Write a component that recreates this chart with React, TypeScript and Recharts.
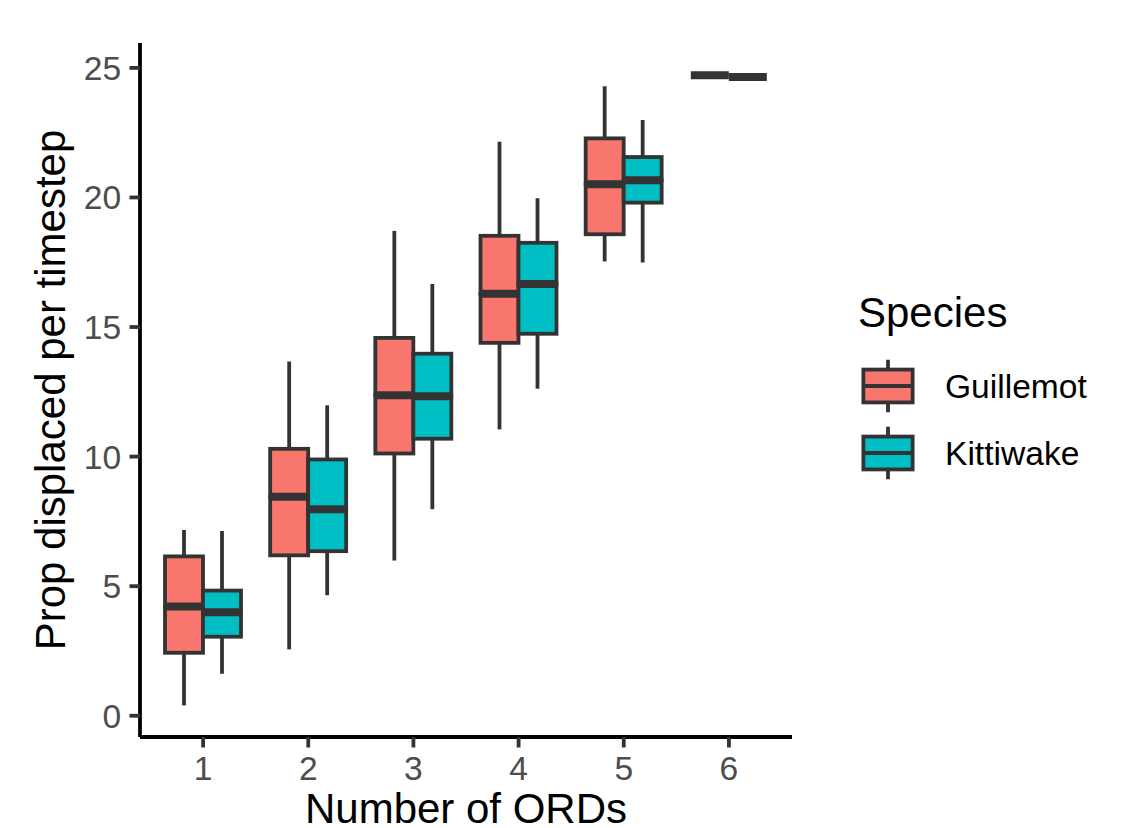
import React from 'react';
import { ComposedChart, Bar, XAxis, YAxis } from 'recharts';

const ords = ['1', '2', '3', '4', '5', '6'];

const guillemotMin = [0.4, 2.56, 5.99, 11.05, 17.53, 24.72];
const guillemotQ1 = [2.43, 6.19, 10.12, 14.39, 18.58, 24.72];
const guillemotMedian = [4.22, 8.45, 12.37, 16.28, 20.51, 24.72];
const guillemotQ3 = [6.15, 10.3, 14.58, 18.52, 22.28, 24.72];
const guillemotMax = [7.17, 13.67, 18.71, 22.15, 24.29, 24.72];

const kittiwakeMin = [1.62, 4.65, 7.97, 12.62, 17.49, 24.65];
const kittiwakeQ1 = [3.05, 6.35, 10.69, 14.74, 19.8, 24.65];
const kittiwakeMedian = [3.99, 7.97, 12.33, 16.66, 20.66, 24.65];
const kittiwakeQ3 = [4.83, 9.89, 13.97, 18.25, 21.56, 24.65];
const kittiwakeMax = [7.13, 11.98, 16.66, 19.97, 22.99, 24.65];

const yTicks = [0, 5, 10, 15, 20, 25];
const speciesNames = ['Guillemot', 'Kittiwake'];
const speciesColors = ['#F8766D', '#00BFC4'];

const FONT = "'Liberation Sans', Arial, Helvetica, sans-serif";
const OUTLINE = '#333333';
const LW = 3.8;
const MEDIAN_LW = 8;

const data = ords.map((ord, i) => ({
  ord,
  gBase: guillemotMin[i],
  gLowWhisker: guillemotQ1[i] - guillemotMin[i],
  gLowBox: guillemotMedian[i] - guillemotQ1[i],
  gHighBox: guillemotQ3[i] - guillemotMedian[i],
  gHighWhisker: guillemotMax[i] - guillemotQ3[i],
  kBase: kittiwakeMin[i],
  kLowWhisker: kittiwakeQ1[i] - kittiwakeMin[i],
  kLowBox: kittiwakeMedian[i] - kittiwakeQ1[i],
  kHighBox: kittiwakeQ3[i] - kittiwakeMedian[i],
  kHighWhisker: kittiwakeMax[i] - kittiwakeQ3[i],
}));

const Empty = () => <g />;

const Whisker = (p: any) => {
  const cx = p.x + p.width / 2;
  if (!(p.height > 0)) return <g />;
  return <line x1={cx} x2={cx} y1={p.y} y2={p.y + p.height} stroke={OUTLINE} strokeWidth={LW} />;
};

const makeLowBox = (fill: string) => (p: any) => {
  if (!(p.height > 0)) return <g />;
  return <rect x={p.x} y={p.y} width={p.width} height={p.height} fill={fill} stroke={OUTLINE} strokeWidth={LW} />;
};

const makeHighBox = (fill: string) => (p: any) => {
  const yb = p.y + (p.height > 0 ? p.height : 0);
  return (
    <g>
      {p.height > 0 ? (
        <rect x={p.x} y={p.y} width={p.width} height={p.height} fill={fill} stroke={OUTLINE} strokeWidth={LW} />
      ) : null}
      <line x1={p.x} x2={p.x + p.width} y1={yb} y2={yb} stroke={OUTLINE} strokeWidth={MEDIAN_LW} />
    </g>
  );
};

const YTitle = (props: any) => {
  const vb = props.viewBox || { x: 0, y: 43, width: 140, height: 694 };
  const cx = vb.x + 65;
  const cy = vb.y + vb.height / 2;
  return (
    <text
      x={cx}
      y={cy}
      transform={`rotate(-90 ${cx} ${cy})`}
      textAnchor="middle"
      fontSize={42}
      fontFamily={FONT}
      fill="#000"
    >
      Prop displaced per timestep
    </text>
  );
};

const LegendKey = ({ cx, cy, fill }: { cx: number; cy: number; fill: string }) => {
  const s = 65.7;
  const x0 = cx - s / 2;
  const y0 = cy - s / 2;
  return (
    <g>
      <line x1={cx} x2={cx} y1={y0 + 0.1 * s} y2={y0 + 0.9 * s} stroke={OUTLINE} strokeWidth={LW} />
      <rect
        x={x0 + 0.125 * s}
        y={y0 + 0.25 * s}
        width={0.75 * s}
        height={0.5 * s}
        fill={fill}
        stroke={OUTLINE}
        strokeWidth={LW}
      />
      <line x1={x0 + 0.125 * s} x2={x0 + 0.875 * s} y1={cy} y2={cy} stroke={OUTLINE} strokeWidth={LW} />
    </g>
  );
};

export default function App() {
  const keyCenters = [386, 453];
  return (
    <div style={{ position: 'absolute', left: 0, top: 0, width: 1121, height: 828, background: '#fff' }}>
      <ComposedChart
        width={1121}
        height={828}
        data={data}
        margin={{ top: 43, right: 329, bottom: 0, left: 0 }}
        barGap={0}
        barCategoryGap={14.5}
      >
        <XAxis
          dataKey="ord"
          type="category"
          interval={0}
          padding={{ left: 10.5, right: 10.5 }}
          height={91}
          axisLine={{ stroke: '#000', strokeWidth: LW }}
          tickLine={{ stroke: OUTLINE, strokeWidth: LW }}
          tickSize={10.5}
          tickMargin={8.4}
          tick={{ fill: '#4d4d4d', fontSize: 33.6, fontFamily: FONT }}
          label={{
            value: 'Number of ORDs',
            position: 'insideBottom',
            offset: 5,
            style: { fontSize: 42, fontFamily: FONT, fill: '#000' },
          }}
        />
        <YAxis
          type="number"
          domain={[-0.82, 25.96]}
          ticks={yTicks}
          allowDataOverflow
          width={140}
          axisLine={{ stroke: '#000', strokeWidth: LW }}
          tickLine={{ stroke: OUTLINE, strokeWidth: LW }}
          tickSize={10.5}
          tickMargin={8.4}
          tick={{ fill: '#4d4d4d', fontSize: 33.6, fontFamily: FONT }}
          label={<YTitle />}
        />
        <Bar dataKey="gBase" stackId="g" shape={Empty} isAnimationActive={false} />
        <Bar dataKey="gLowWhisker" stackId="g" shape={Whisker} isAnimationActive={false} />
        <Bar dataKey="gLowBox" stackId="g" shape={makeLowBox(speciesColors[0])} isAnimationActive={false} />
        <Bar dataKey="gHighBox" stackId="g" shape={makeHighBox(speciesColors[0])} isAnimationActive={false} />
        <Bar dataKey="gHighWhisker" stackId="g" shape={Whisker} isAnimationActive={false} />
        <Bar dataKey="kBase" stackId="k" shape={Empty} isAnimationActive={false} />
        <Bar dataKey="kLowWhisker" stackId="k" shape={Whisker} isAnimationActive={false} />
        <Bar dataKey="kLowBox" stackId="k" shape={makeLowBox(speciesColors[1])} isAnimationActive={false} />
        <Bar dataKey="kHighBox" stackId="k" shape={makeHighBox(speciesColors[1])} isAnimationActive={false} />
        <Bar dataKey="kHighWhisker" stackId="k" shape={Whisker} isAnimationActive={false} />
      </ComposedChart>
      <svg
        width={1121}
        height={828}
        style={{ position: 'absolute', left: 0, top: 0, pointerEvents: 'none' }}
      >
        <text x={858} y={327} fontSize={42} fontFamily={FONT} fill="#000">
          Species
        </text>
        {speciesNames.map((name, i) => (
          <g key={name}>
            <LegendKey cx={888} cy={keyCenters[i]} fill={speciesColors[i]} />
            <text x={945} y={keyCenters[i] + 12} fontSize={33.6} fontFamily={FONT} fill="#000">
              {name}
            </text>
          </g>
        ))}
      </svg>
    </div>
  );
}
